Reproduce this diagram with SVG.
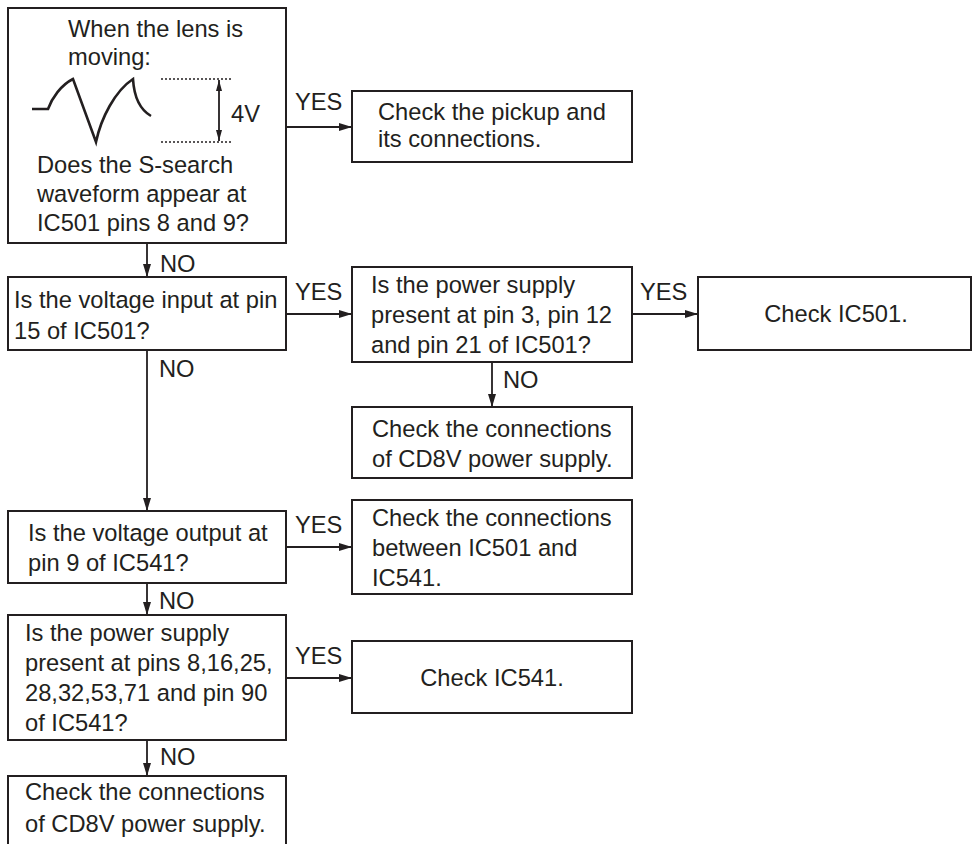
<svg xmlns="http://www.w3.org/2000/svg" width="973" height="844" viewBox="0 0 973 844">
<style>
  .box { fill: #ffffff; stroke: #231f20; stroke-width: 2; }
  .t { font-family: "Liberation Sans", Arial, sans-serif; font-size: 23.7px; fill: #231f20; }
  .c { text-anchor: middle; }
  .conn { stroke: #231f20; stroke-width: 1.8; fill: none; }
  .wave { stroke: #231f20; stroke-width: 2.6; fill: none; stroke-linejoin: miter; }
  .dot { stroke: #231f20; stroke-width: 1.6; stroke-dasharray: 2 2; fill: none; }
</style>
<defs>
  <marker id="arr" markerUnits="userSpaceOnUse" markerWidth="13" markerHeight="8" refX="13" refY="4" orient="auto">
    <path d="M0,0 L13,4 L0,8 z" fill="#231f20"/>
  </marker>
  <marker id="arrs" markerUnits="userSpaceOnUse" markerWidth="11" markerHeight="6" refX="11" refY="3" orient="auto-start-reverse">
    <path d="M0,0 L11,3 L0,6 z" fill="#231f20"/>
  </marker>
</defs>
<rect width="973" height="844" fill="#ffffff"/>

<g id="connectors">
  <line class="conn" x1="286" y1="127" x2="352" y2="127" marker-end="url(#arr)"/>
  <text class="t" x="295" y="110">YES</text>
  <line class="conn" x1="147" y1="243" x2="147" y2="277" marker-end="url(#arr)"/>
  <text class="t" x="160" y="272">NO</text>
  <line class="conn" x1="286" y1="314" x2="352" y2="314" marker-end="url(#arr)"/>
  <text class="t" x="295" y="300">YES</text>
  <line class="conn" x1="632" y1="314" x2="698" y2="314" marker-end="url(#arr)"/>
  <text class="t" x="640" y="300">YES</text>
  <line class="conn" x1="492" y1="362" x2="492" y2="407" marker-end="url(#arr)"/>
  <text class="t" x="503" y="388">NO</text>
  <line class="conn" x1="147" y1="350" x2="147" y2="511" marker-end="url(#arr)"/>
  <text class="t" x="159" y="377">NO</text>
  <line class="conn" x1="286" y1="547" x2="352" y2="547" marker-end="url(#arr)"/>
  <text class="t" x="295" y="533">YES</text>
  <line class="conn" x1="147" y1="583" x2="147" y2="615" marker-end="url(#arr)"/>
  <text class="t" x="159" y="609">NO</text>
  <line class="conn" x1="286" y1="678" x2="352" y2="678" marker-end="url(#arr)"/>
  <text class="t" x="295" y="664">YES</text>
  <line class="conn" x1="147" y1="740" x2="147" y2="776" marker-end="url(#arr)"/>
  <text class="t" x="160" y="765">NO</text>
</g>

<g id="n1">
  <rect class="box" x="8" y="8" width="278" height="235"/>
  <text class="t" x="68" y="37">When the lens is</text>
  <text class="t" x="68" y="65">moving:</text>
  <path class="wave" d="M32,109 H48 C52,98 61,85 73,79 L96,142 C101,118 115,91 133,79 C134,96 139,109 151,116"/>
  <line class="dot" x1="161" y1="79" x2="232" y2="79"/>
  <line class="dot" x1="161" y1="142" x2="232" y2="142"/>
  <line class="conn" x1="219" y1="80" x2="219" y2="141" marker-start="url(#arrs)" marker-end="url(#arrs)"/>
  <text class="t" x="231" y="122">4V</text>
  <text class="t" x="37" y="173">Does the S-search</text>
  <text class="t" x="37" y="202">waveform appear at</text>
  <text class="t" x="37" y="231">IC501 pins 8 and 9?</text>
</g>

<g id="n2">
  <rect class="box" x="352" y="91" width="280" height="71"/>
  <text class="t" x="378" y="120">Check the pickup and</text>
  <text class="t" x="378" y="147">its connections.</text>
</g>

<g id="n3">
  <rect class="box" x="8" y="277" width="278" height="73"/>
  <text class="t" x="14" y="308">Is the voltage input at pin</text>
  <text class="t" x="14" y="339">15 of IC501?</text>
</g>

<g id="n4">
  <rect class="box" x="352" y="267" width="280" height="95"/>
  <text class="t" x="371" y="293">Is the power supply</text>
  <text class="t" x="371" y="323">present at pin 3, pin 12</text>
  <text class="t" x="371" y="353">and pin 21 of IC501?</text>
</g>

<g id="n5">
  <rect class="box" x="698" y="277" width="273" height="73"/>
  <text class="t c" x="836" y="322">Check IC501.</text>
</g>

<g id="n6">
  <rect class="box" x="352" y="407" width="280" height="71"/>
  <text class="t" x="372" y="437">Check the connections</text>
  <text class="t" x="372" y="467">of CD8V power supply.</text>
</g>

<g id="n7">
  <rect class="box" x="8" y="511" width="278" height="72"/>
  <text class="t" x="28" y="541">Is the voltage output at</text>
  <text class="t" x="28" y="571">pin 9 of IC541?</text>
</g>

<g id="n8">
  <rect class="box" x="352" y="500" width="280" height="94"/>
  <text class="t" x="372" y="526">Check the connections</text>
  <text class="t" x="372" y="556">between IC501 and</text>
  <text class="t" x="372" y="586">IC541.</text>
</g>

<g id="n9">
  <rect class="box" x="8" y="615" width="278" height="125"/>
  <text class="t" x="25" y="641">Is the power supply</text>
  <text class="t" x="25" y="671">present at pins 8,16,25,</text>
  <text class="t" x="25" y="701">28,32,53,71 and pin 90</text>
  <text class="t" x="25" y="731">of IC541?</text>
</g>

<g id="n10">
  <rect class="box" x="352" y="641" width="280" height="72"/>
  <text class="t c" x="492" y="686">Check IC541.</text>
</g>

<g id="n11">
  <rect class="box" x="8" y="776" width="278" height="90"/>
  <text class="t" x="25" y="800">Check the connections</text>
  <text class="t" x="25" y="832">of CD8V power supply.</text>
</g>
</svg>
